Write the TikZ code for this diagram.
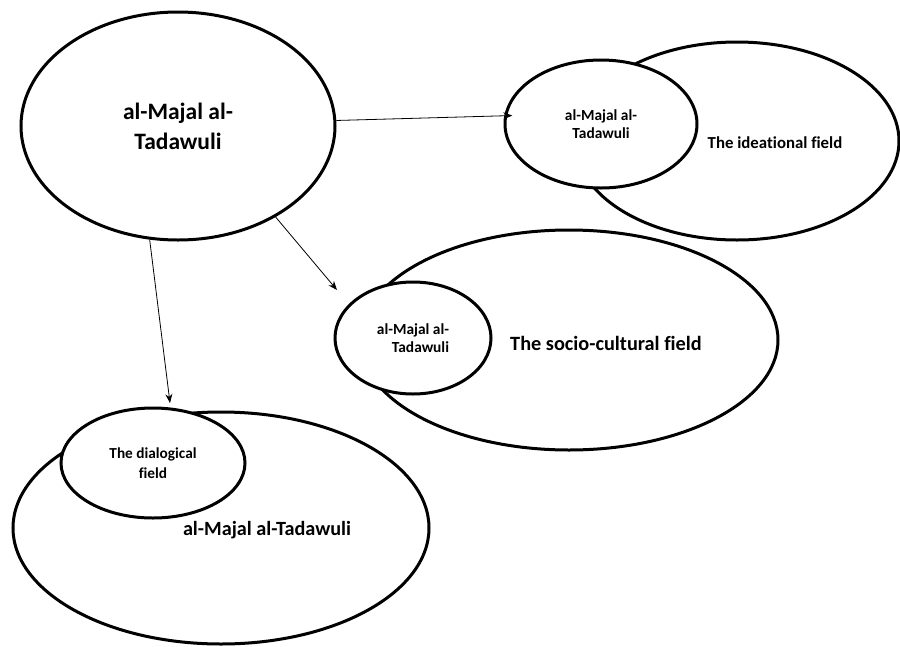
\documentclass[tikz,border=0pt]{standalone}
\usepackage{fontspec}
\setmainfont{Carlito}[Ligatures=CommonOff]
\usetikzlibrary{shapes.geometric,arrows.meta}

\begin{document}
\begin{tikzpicture}[x=1pt, y=-1pt]
  \tikzstyle{field} = [ellipse, draw, line width=3pt, fill=white, inner sep=0pt]
  \tikzstyle{fieldtext} = [font=\bfseries, align=center, inner sep=0pt]
  \tikzstyle{link} = [-{Stealth[length=9pt,width=7pt]}, line width=0.8pt]
\useasboundingbox (0,0) rectangle (900,646);
% the source field
\node[field, minimum width=314, minimum height=228, fieldtext, font=\bfseries\fontsize{23.5pt}{30pt}\selectfont] (majal) at (178,126) {al-Majal al-\\Tadawuli};
% big fields
\node[field, minimum width=324, minimum height=198] (idea) at (737,141) {};
\node[field, minimum width=418, minimum height=220] (socio) at (569,340) {};
\node[field, minimum width=416, minimum height=232] (tadaw) at (221,528) {};
% small fields on top
\node[field, minimum width=192, minimum height=128, fieldtext, font=\bfseries\fontsize{15.4pt}{18pt}\selectfont] (ideasmall) at (601,124) {al-Majal al-\\Tadawuli};
\node[field, minimum width=156, minimum height=112, fieldtext, align=right, font=\bfseries\fontsize{15.4pt}{18pt}\selectfont] (sociosmall) at (413,338) {al-Majal al-\\Tadawuli};
\node[field, minimum width=184, minimum height=110, fieldtext, font=\bfseries\fontsize{15.3pt}{20pt}\selectfont] (dialog) at (153,463) {The dialogical\\field};
% labels of the big fields
\node[fieldtext, font=\bfseries\fontsize{16.8pt}{20pt}\selectfont] (idealbl) at (775,143) {The ideational field};
\node[fieldtext, font=\bfseries\fontsize{20.3pt}{24pt}\selectfont] (sociolbl) at (606,343) {The socio-cultural field};
\node[fieldtext, font=\bfseries\fontsize{20.2pt}{24pt}\selectfont] (tadawlbl) at (267,530) {al-Majal al-Tadawuli};
% arrow ends
\coordinate (socend) at (337,290);
\coordinate (dialend) at (170,403);
\draw[link] (majal.2) -- ([xshift=8pt]ideasmall.175);
\draw[link] (majal.-43) -- (socend);
\draw[link] (majal.-104) -- (dialend);
\end{tikzpicture}
\end{document}
